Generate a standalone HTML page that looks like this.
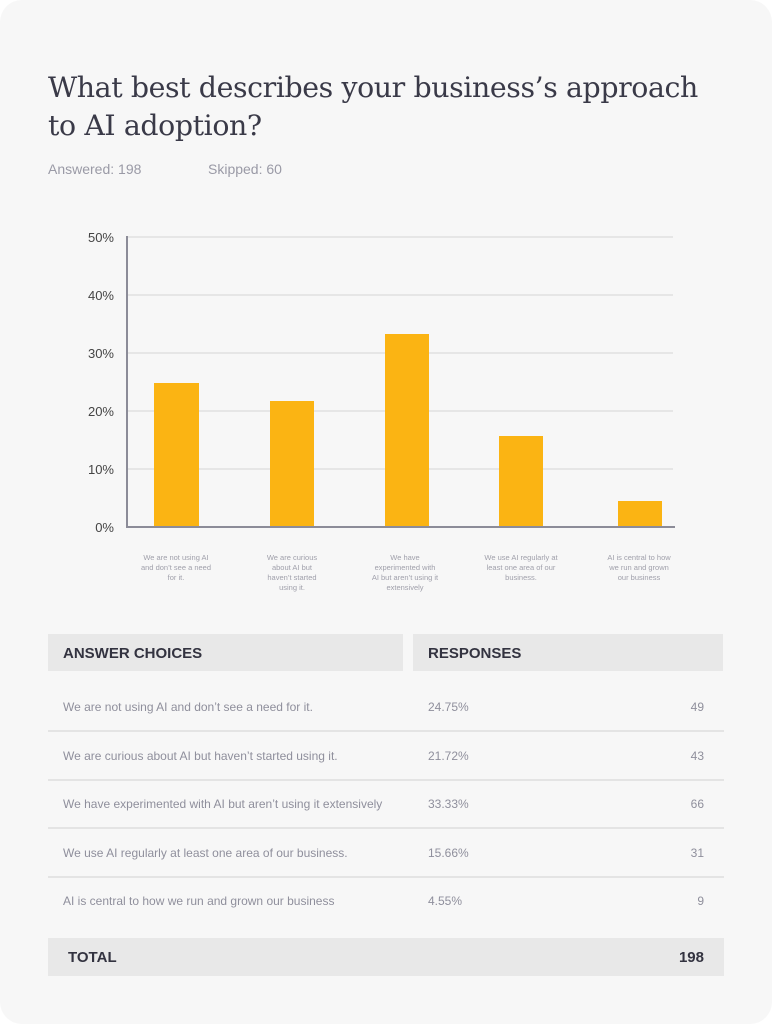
<!DOCTYPE html>
<html><head><meta charset="utf-8"><style>
body{margin:0;width:772px;height:1024px;background:#fff;font-family:"Liberation Sans",sans-serif;position:relative;overflow:hidden}
.card{position:absolute;left:0;top:0;width:772px;height:1024px;background:#f7f7f7;border-radius:22px}
.t{position:absolute;left:48px;top:69px;font-family:"DejaVu Serif","Liberation Serif",serif;font-size:28.4px;line-height:38px;color:#3a3a48;letter-spacing:-0.4px}
.meta{position:absolute;top:161px;font-size:14px;color:#9a9aa6}
.hdr{position:absolute;top:634px;height:37px;background:#e8e8e8;font-weight:bold;font-size:15px;color:#333340;line-height:39px;padding-left:15px;box-sizing:border-box}
.row{position:absolute;left:48px;width:676px;height:48px;border-bottom:2px solid #e4e4e4;font-size:12px;color:#8f8f9c}
.row span{position:absolute;top:18px}
.tot{position:absolute;left:48px;top:938px;width:676px;height:38px;background:#e8e8e8;font-weight:bold;font-size:15px;color:#333340;line-height:40px}
</style></head><body>
<div class="card"></div>
<div class="t">What best describes your business’s approach<br>to AI adoption?</div>
<div class="meta" style="left:48px">Answered: 198</div>
<div class="meta" style="left:208px">Skipped: 60</div>
<svg style="position:absolute;left:0;top:0" width="772" height="620" font-family="Liberation Sans, sans-serif">
<g stroke="#e6e6e6" stroke-width="2">
<line x1="128" y1="237" x2="673" y2="237"/><line x1="128" y1="295" x2="673" y2="295"/><line x1="128" y1="353" x2="673" y2="353"/><line x1="128" y1="411" x2="673" y2="411"/><line x1="128" y1="469" x2="673" y2="469"/></g>
<g font-size="13" fill="#444" text-anchor="end">
<text x="114" y="242">50%</text><text x="114" y="300">40%</text><text x="114" y="358">30%</text><text x="114" y="416">20%</text><text x="114" y="474">10%</text><text x="114" y="532">0%</text></g>
<g fill="#fbb413">
<rect x="154" y="383" width="45" height="144"/><rect x="270" y="401" width="44" height="126"/><rect x="385" y="334" width="44" height="193"/><rect x="499" y="436" width="44" height="91"/><rect x="618" y="501" width="44" height="26"/></g>
<line x1="127" y1="236" x2="127" y2="528" stroke="#8c8c98" stroke-width="2"/>
<line x1="126" y1="527" x2="675" y2="527" stroke="#8c8c98" stroke-width="2"/>
<g font-size="7.5" fill="#a0a0ab" text-anchor="middle">
<text x="176" y="560">We are not using AI</text><text x="176" y="570">and don’t see a need</text><text x="176" y="580">for it.</text>
<text x="292" y="560">We are curious</text><text x="292" y="570">about AI but</text><text x="292" y="580">haven’t started</text><text x="292" y="590">using it.</text>
<text x="405" y="560">We have</text><text x="405" y="570">experimented with</text><text x="405" y="580">AI but aren’t using it</text><text x="405" y="590">extensively</text>
<text x="521" y="560">We use AI regularly at</text><text x="521" y="570">least one area of our</text><text x="521" y="580">business.</text>
<text x="639" y="560">AI is central to how</text><text x="639" y="570">we run and grown</text><text x="639" y="580">our business</text></g>
</svg>
<div class="hdr" style="left:48px;width:355px">ANSWER CHOICES</div>
<div class="hdr" style="left:413px;width:310px">RESPONSES</div>
<div class="row" style="top:682px"><span style="left:15px">We are not using AI and don’t see a need for it.</span><span style="left:380px">24.75%</span><span style="right:20px">49</span></div>
<div class="row" style="top:731px"><span style="left:15px">We are curious about AI but haven’t started using it.</span><span style="left:380px">21.72%</span><span style="right:20px">43</span></div>
<div class="row" style="top:779px"><span style="left:15px">We have experimented with AI but aren’t using it extensively</span><span style="left:380px">33.33%</span><span style="right:20px">66</span></div>
<div class="row" style="top:828px"><span style="left:15px">We use AI regularly at least one area of our business.</span><span style="left:380px">15.66%</span><span style="right:20px">31</span></div>
<div class="row" style="top:876px;border-bottom:none"><span style="left:15px">AI is central to how we run and grown our business</span><span style="left:380px">4.55%</span><span style="right:20px">9</span></div>
<div class="tot"><span style="position:absolute;left:20px">TOTAL</span><span style="position:absolute;right:20px">198</span></div>
</body></html>
